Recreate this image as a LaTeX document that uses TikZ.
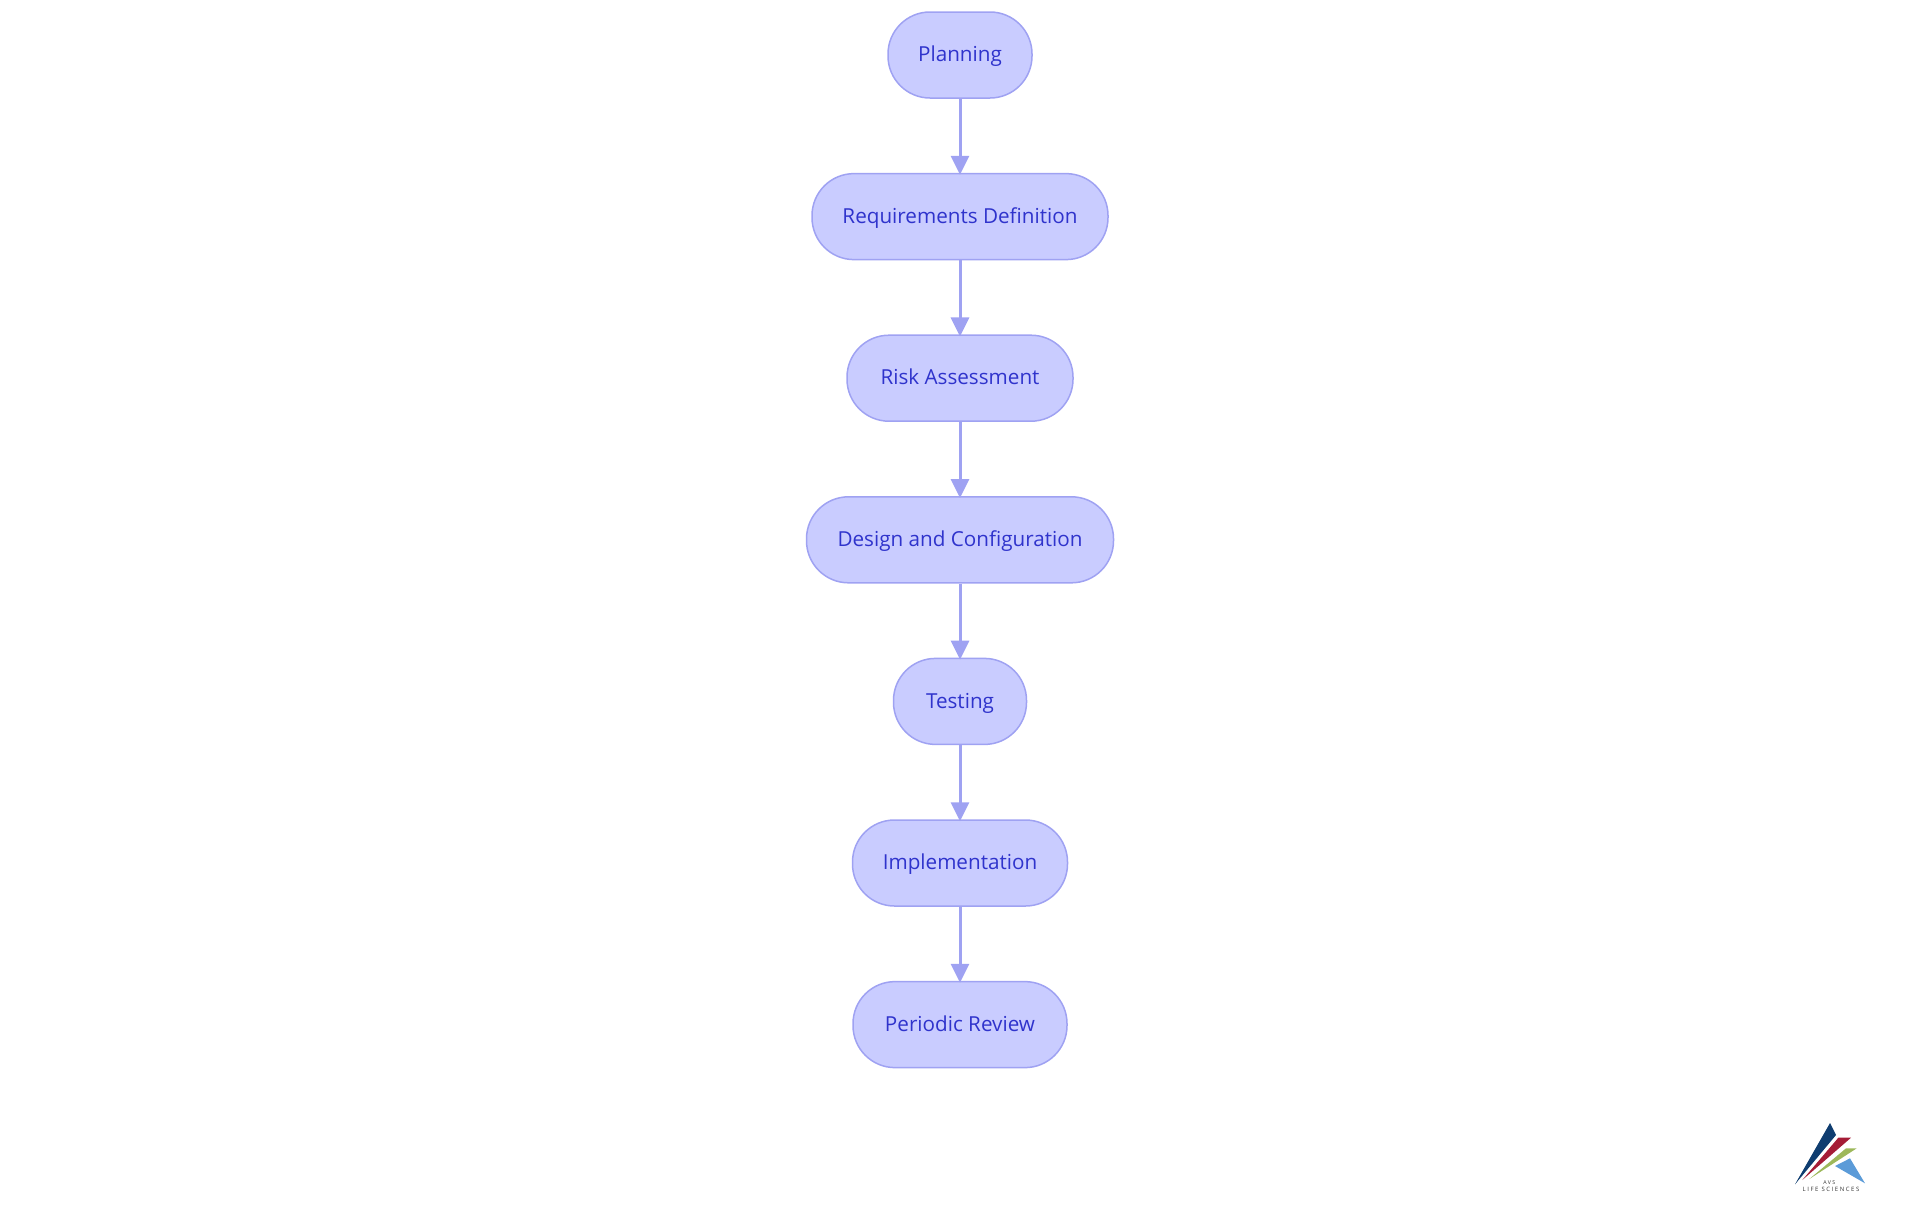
\documentclass[tikz,border=0pt]{standalone}
\usepackage{fontspec}
\usepackage{xcolor}
\setmainfont{Open Sans}
\usetikzlibrary{positioning,arrows.meta}
\definecolor{phasefill}{HTML}{C9CCFF}
\definecolor{phaseline}{HTML}{9FA2F2}
\definecolor{phasetext}{HTML}{2F33CC}
\definecolor{logonavy}{HTML}{0F3D70}
\definecolor{logored}{HTML}{A51C36}
\definecolor{logogreen}{HTML}{9DB85A}
\definecolor{logoblue}{HTML}{5B9BD8}
\tikzset{
    phase/.style={draw=phaseline, fill=phasefill, text=phasetext, line width=0.015cm,
        rounded corners=0.42cm, minimum height=0.86cm, inner sep=0pt, text height=0.165cm, text depth=0.03cm,
        font=\fontsize{5.88pt}{7pt}\selectfont},
    flow/.style={draw=phaseline, line width=0.03cm, shorten >=-0.02cm, -{Triangle[length=0.19cm,width=0.18cm]}},
    logotext/.style={inner sep=0pt, text=black!80}
}

\begin{document}
\begin{tikzpicture}[node distance=0.741cm]
    \useasboundingbox (0,0) rectangle (19.2,-12.15);

    % Phases
    \node[phase, minimum width=1.44cm] (planning) at (9.6,-0.55) {Planning};
    \node[phase, minimum width=2.96cm, below=of planning] (requirements) {Requirements Definition};
    \node[phase, minimum width=2.26cm, below=of requirements] (risk) {Risk Assessment};
    \node[phase, minimum width=3.07cm, below=of risk] (design) {Design and Configuration};
    \node[phase, minimum width=1.33cm, below=of design] (testing) {Testing};
    \node[phase, minimum width=2.15cm, below=of testing] (implementation) {Implementation};
    \node[phase, minimum width=2.14cm, below=of implementation] (review) {Periodic Review};

    % Connectors
    \foreach \a/\b in {planning/requirements,requirements/risk,risk/design,design/testing,testing/implementation,implementation/review} {
        \draw[flow] (\a) -- (\b);
    }

    % Logo
    \fill[logonavy] (17.95,-11.843) -- (18.30,-11.23) -- (18.36,-11.35) -- cycle;
    \fill[logored] (18.023,-11.80) -- (18.383,-11.377) -- (18.51,-11.377) -- cycle;
    \fill[logogreen] (18.093,-11.79) -- (18.46,-11.483) -- (18.567,-11.483) -- cycle;
    \fill[logoblue] (18.35,-11.66) -- (18.50,-11.583) -- (18.65,-11.833) -- cycle;
    \node[logotext, font=\fontsize{1.5pt}{2pt}\selectfont] (avs) at (18.293,-11.823) {A V S};
    \node[logotext, font=\fontsize{1.7pt}{2pt}\selectfont] (life) at (18.31,-11.893) {L I F E\ \ S C I E N C E S};
\end{tikzpicture}
\end{document}
